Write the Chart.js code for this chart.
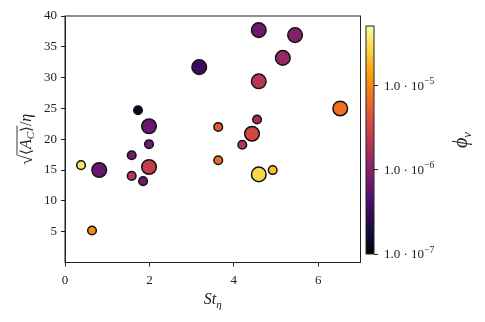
<!DOCTYPE html>
<html>
<head>
<meta charset="utf-8">
<script src="https://cdn.jsdelivr.net/npm/chart.js@4.4.1/dist/chart.umd.min.js"></script>
<style>
  html, body { margin: 0; padding: 0; background: #fff; }
  #wrap { position: relative; width: 485px; height: 322px; }
  #wrap canvas { position: absolute; left: 0; top: 0; }
</style>
</head>
<body>
<div id="wrap">
  <canvas id="main" width="485" height="322"></canvas>
  <canvas id="cbar" width="485" height="322"></canvas>
</div>
<script>
// data
var stokes = [0.38, 0.81, 0.64, 1.73, 1.99, 1.99, 1.58, 1.99, 1.58, 1.85, 3.18, 3.63,
              3.63, 4.59, 4.59, 4.55, 4.43, 4.20, 4.59, 4.92, 5.16, 5.45, 6.52];
var areaRoot = [15.8, 15.0, 5.2, 24.7, 22.1, 19.2, 17.4, 15.5, 14.05, 13.2, 31.7, 22.0,
                16.6, 37.7, 29.4, 23.2, 20.9, 19.1, 14.3, 15.0, 33.2, 36.9, 25.0];
var phiV = [3.3e-5, 6.4e-7, 1.0e-5, 1.4e-7, 6.5e-7, 7.4e-7, 7.8e-7, 2.6e-6, 2.1e-6, 6.9e-7,
            3.1e-7, 4.8e-6, 6.6e-6, 6.9e-7, 2.2e-6, 1.55e-6, 3.3e-6, 2.2e-6, 2.75e-5, 2.0e-5,
            1.3e-6, 9.5e-7, 6.9e-6];
var bigMarker = [0, 1, 0, 0, 1, 0, 0, 1, 0, 0, 1, 0, 0, 1, 1, 0, 1, 0, 1, 0, 1, 1, 1];

var xTicks = [0, 2, 4, 6];
var yTicks = [5, 10, 15, 20, 25, 30, 35, 40];
var cbTicks = [1e-7, 1e-6, 1e-5];
var phiMin = 1e-7, phiMax = 5.1e-5;

// inferno colormap stops
var inferno = [[0,0,4],[22,11,57],[66,10,104],[106,23,110],[147,38,103],[188,55,84],
               [221,81,58],[243,120,25],[252,165,10],[246,215,70],[252,255,164]];
function cmap(t){
  t = Math.max(0, Math.min(1, t));
  var f = t * 10, i = Math.min(9, Math.floor(f)), u = f - i;
  var a = inferno[i], b = inferno[i+1];
  return 'rgb(' + [0,1,2].map(function(k){ return Math.round(a[k] + (b[k]-a[k])*u); }).join(',') + ')';
}
function norm(v){ return (Math.log10(v) - Math.log10(phiMin)) / (Math.log10(phiMax) - Math.log10(phiMin)); }

var serif = '"Liberation Serif", "DejaVu Serif", serif';
var ink = '#222';

var points = stokes.map(function(x, i){ return {x: x, y: areaRoot[i]}; });

// draws pieces of text [str, italic, size, dy] starting at x
function drawPieces(ctx, pieces, x, y){
  pieces.forEach(function(p){
    ctx.font = (p[1] ? 'italic ' : '') + p[2] + 'px ' + serif;
    ctx.fillText(p[0], x, y + (p[3] || 0));
    p.x0 = x;
    x += ctx.measureText(p[0]).width;
    p.x1 = x;
  });
  return x;
}
function piecesWidth(ctx, pieces){
  var w = 0;
  pieces.forEach(function(p){ ctx.font = (p[1] ? 'italic ' : '') + p[2] + 'px ' + serif; w += ctx.measureText(p[0]).width; });
  return w;
}

var labelsPlugin = {
  id: 'labels',
  afterDraw: function(chart){
    var ctx = chart.ctx, a = chart.chartArea;
    ctx.save();
    // box around the axes
    ctx.strokeStyle = ink; ctx.lineWidth = 1;
    ctx.strokeRect(a.left, a.top, a.right - a.left, a.bottom - a.top);
    ctx.fillStyle = ink;
    ctx.textBaseline = 'alphabetic';
    // x label St_eta
    var xl = [['St', true, 16], ['η', true, 11, 4]];
    var w = piecesWidth(ctx, xl);
    drawPieces(ctx, xl, (a.left + a.right)/2 - w/2, 304);
    // y label sqrt(<A_C>)/eta
    ctx.translate(31, (a.top + a.bottom)/2);
    ctx.rotate(-Math.PI/2);
    var yl = [['√', false, 18, 1], ['⟨', false, 15], ['A', true, 16], ['C', true, 11, 3],
              ['⟩', false, 15], ['/', false, 16], ['η', true, 16]];
    w = piecesWidth(ctx, yl);
    drawPieces(ctx, yl, -w/2, 0);
    ctx.lineWidth = 0.9;
    ctx.beginPath();
    ctx.moveTo(yl[0].x1 - 0.5, -14);
    ctx.lineTo(yl[4].x1 + 0.5, -14);
    ctx.stroke();
    ctx.restore();
  }
};

new Chart(document.getElementById('main'), {
  type: 'scatter',
  data: {
    datasets: [{
      data: points,
      pointRadius: bigMarker.map(function(b){ return b ? 7.3 : 4.3; }),
      pointBackgroundColor: phiV.map(function(v){ return cmap(norm(v)); }),
      pointBorderColor: '#111',
      pointBorderWidth: 1.5
    }]
  },
  options: {
    responsive: false,
    animation: false,
    events: [],
    layout: { padding: { left: 0, top: 16, right: 124.5, bottom: 0 } },
    plugins: { legend: { display: false }, tooltip: { enabled: false } },
    scales: {
      x: {
        type: 'linear', min: 0, max: 7,
        afterBuildTicks: function(s){ s.ticks = xTicks.map(function(v){ return {value: v}; }); },
        afterFit: function(s){ s.height = 322 - 262.5; },
        grid: { display: true, drawOnChartArea: false, tickLength: 4, tickColor: ink },
        border: { display: true, color: ink, width: 1 },
        ticks: { color: ink, font: { family: serif, size: 13 }, padding: 6, maxRotation: 0 }
      },
      y: {
        type: 'linear', min: 0, max: 40,
        afterBuildTicks: function(s){ s.ticks = yTicks.map(function(v){ return {value: v}; }); },
        afterFit: function(s){ s.width = 65; },
        grid: { display: true, drawOnChartArea: false, tickLength: 4, tickColor: ink },
        border: { display: true, color: ink, width: 1 },
        ticks: { color: ink, font: { family: serif, size: 13 }, padding: 4 }
      }
    }
  },
  plugins: [labelsPlugin]
});

// colour bar: one floating bar on a log scale, filled with the colormap
var cbarPlugin = {
  id: 'cbarLabel',
  afterDraw: function(chart){
    var ctx = chart.ctx, a = chart.chartArea, s = chart.scales.y;
    ctx.save();
    ctx.strokeStyle = ink; ctx.lineWidth = 1;
    ctx.strokeRect(a.left, a.top, a.right - a.left, a.bottom - a.top);
    ctx.fillStyle = ink;
    ctx.textBaseline = 'middle';
    // tick labels m.0 · 10^e with a raised exponent
    cbTicks.forEach(function(v){
      var e = Math.round(Math.log10(v));
      var m = (v / Math.pow(10, e)).toFixed(1);
      var py = s.getPixelForValue(v) + 1;
      drawPieces(ctx, [[m + ' · 10', false, 13], ['−' + Math.abs(e), false, 9.5, -5]], a.right + 10, py);
    });
    ctx.textBaseline = 'alphabetic';
    ctx.translate(467, 140);
    ctx.rotate(-Math.PI/2);
    var pl = [['ϕ', true, 20], ['v', true, 13, 4]];
    var w = piecesWidth(ctx, pl);
    drawPieces(ctx, pl, -w/2, 0);
    ctx.restore();
  }
};

new Chart(document.getElementById('cbar'), {
  type: 'bar',
  data: {
    labels: ['phi'],
    datasets: [{
      data: [[phiMin, phiMax]],
      barPercentage: 1,
      categoryPercentage: 1,
      borderWidth: 0,
      backgroundColor: function(c){
        var a = c.chart.chartArea;
        if (!a) return '#000';
        var g = c.chart.ctx.createLinearGradient(0, a.bottom, 0, a.top);
        for (var i = 0; i <= 40; i++) g.addColorStop(i/40, cmap(i/40));
        return g;
      }
    }]
  },
  options: {
    responsive: false,
    animation: false,
    events: [],
    layout: { padding: { left: 366, top: 26, right: 0, bottom: 68 } },
    plugins: { legend: { display: false }, tooltip: { enabled: false } },
    scales: {
      x: { display: false },
      y: {
        type: 'logarithmic', position: 'right', min: phiMin, max: phiMax,
        afterBuildTicks: function(s){ s.ticks = cbTicks.map(function(v){ return {value: v}; }); },
        afterFit: function(s){ s.width = 485 - 374; },
        grid: { display: true, drawOnChartArea: false, tickLength: 4, tickColor: ink },
        border: { display: false },
        ticks: { display: false }
      }
    }
  },
  plugins: [cbarPlugin]
});
</script>
</body>
</html>
